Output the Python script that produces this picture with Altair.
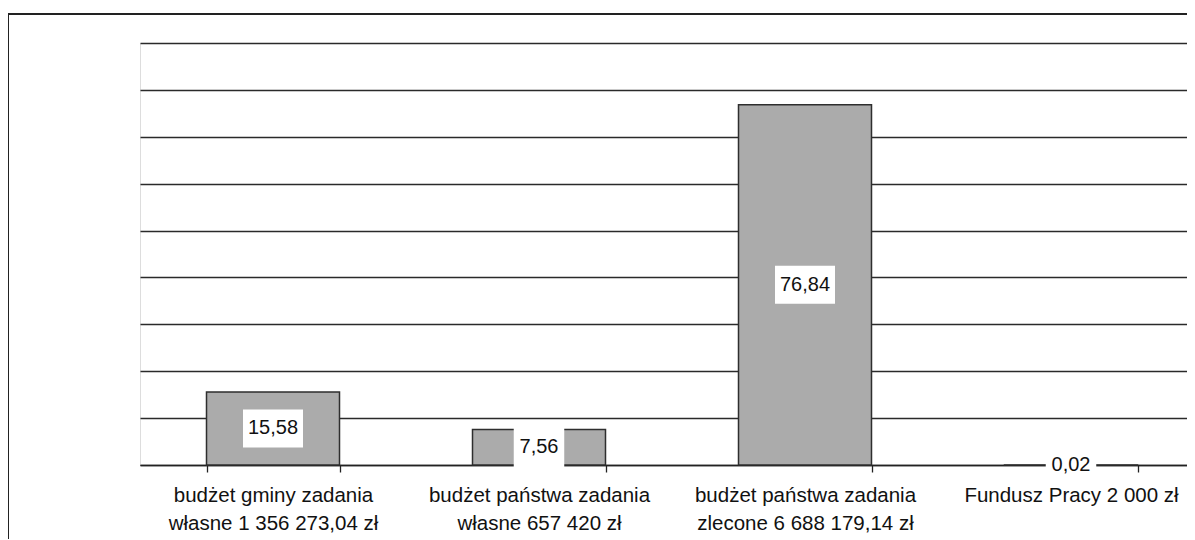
import altair as alt
import pandas as pd

categories = [
    "budżet gminy zadania\nwłasne 1 356 273,04 zł",
    "budżet państwa zadania\nwłasne 657 420 zł",
    "budżet państwa zadania\nzlecone 6 688 179,14 zł",
    "Fundusz Pracy 2 000 zł",
]
values = [15.58, 7.56, 76.84, 0.02]
grid_values = [0, 10, 20, 30, 40, 50, 60, 70, 80, 90]

df = pd.DataFrame({"cat": categories, "value": values})

FONT = "Liberation Sans"

xscale = alt.Scale(domain=categories, range=[0, 1064], paddingInner=0.5, paddingOuter=0.25)
yscale = alt.Scale(domain=[0, 90], nice=False, zero=True)

x_enc = alt.X(
    "cat:N",
    sort=categories,
    scale=xscale,
    title=None,
    axis=alt.Axis(
        tickBand="extent",
        labelAngle=0,
        labelFont=FONT,
        labelFontSize=20.5,
        labelColor="#111111",
        labelLineHeight=28,
        labelPadding=13,
        labelLimit=400,
        labelExpr="split(datum.label, '\\n')",
        tickSize=7,
        tickColor="#222222",
        tickWidth=1.3,
        domainColor="#222222",
        domainWidth=1.5,
        grid=False,
        zindex=0,
    ),
)
y_enc = alt.Y(
    "value:Q",
    scale=yscale,
    title=None,
    axis=alt.Axis(
        values=grid_values,
        grid=True,
        gridColor="#2a2a2a",
        gridWidth=1.3,
        labels=False,
        ticks=False,
        domain=False,
        zindex=0,
    ),
)

base = alt.Chart(df)

bars = base.mark_bar(fill="#ababab", stroke="#2e2e2e", strokeWidth=1.5).encode(
    x=x_enc, y=y_enc
)

big_box = "M-1,-0.633L1,-0.633L1,0.633L-1,0.633Z"
small_box = "M-1,-0.8L1,-0.8L1,0.8L-1,0.8Z"

boxes = base.transform_calculate(mid="datum.value / 2").mark_point(
    filled=True, fill="white", opacity=1, strokeWidth=0
).encode(
    x=alt.X("cat:N", sort=categories, scale=xscale),
    y=alt.Y("mid:Q", scale=yscale),
    shape=alt.condition(alt.datum.value < 10, alt.value(small_box), alt.value(big_box)),
    size=alt.condition(alt.datum.value < 10, alt.value(2550), alt.value(3600)),
)

texts = base.transform_calculate(
    mid="datum.value / 2",
    lbl="replace(format(datum.value, '.2f'), '.', ',')",
).mark_text(font=FONT, fontSize=20, color="#111111", baseline="middle", align="center").encode(
    x=alt.X("cat:N", sort=categories, scale=xscale),
    y=alt.Y("mid:Q", scale=yscale),
    text="lbl:N",
)

frame_data = alt.Data(values=[{"k": 1}])
frame_v = alt.Chart(frame_data).mark_rule(color="#222222", strokeWidth=2).encode(
    x=alt.value(-132), y=alt.value(-29), y2=alt.value(530)
)
frame_h = alt.Chart(frame_data).mark_rule(color="#222222", strokeWidth=2).encode(
    x=alt.value(-132), x2=alt.value(1100), y=alt.value(-29)
)

chart = alt.layer(frame_v, frame_h, bars, boxes, texts).properties(
    width=1047,
    height=422,
    padding={"left": 132, "top": 35, "right": 0, "bottom": 74},
    autosize=alt.AutoSizeParams(type="none"),
).configure_view(stroke=None).configure(background="white")

chart.save("out.html", embed_options={"renderer": "svg", "actions": False})
